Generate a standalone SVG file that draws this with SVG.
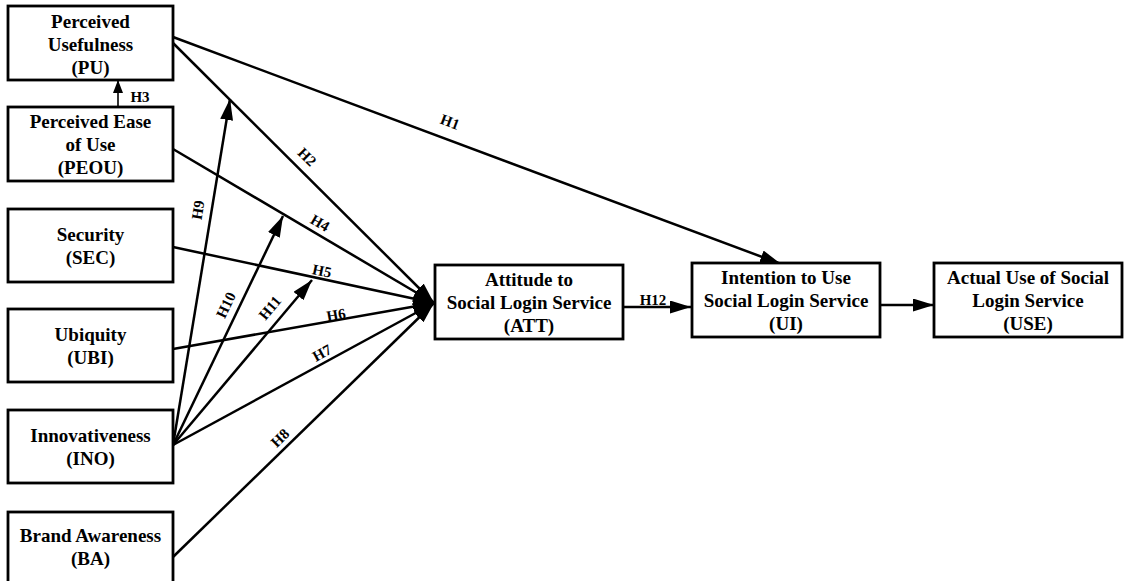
<svg xmlns="http://www.w3.org/2000/svg" width="1124" height="581" viewBox="0 0 1124 581">
<defs>
<marker id="arr" markerUnits="userSpaceOnUse" markerWidth="22" markerHeight="14" refX="21" refY="6.5" orient="auto">
<path d="M0,0 L21,6.5 L0,13 z" fill="#000"/>
</marker>
<marker id="arrS" markerUnits="userSpaceOnUse" markerWidth="14" markerHeight="11" refX="13" refY="5" orient="auto">
<path d="M0,0 L13,5 L0,10 z" fill="#000"/>
</marker>
<style>
.box{fill:#fff;stroke:#000;stroke-width:2.8}
.t{font-family:"Liberation Serif","Times New Roman",serif;font-weight:bold;font-size:19px;text-anchor:middle;fill:#000}
.lb{font-family:"Liberation Serif","Times New Roman",serif;font-weight:bold;font-size:15px;text-anchor:middle;fill:#000}
.c{stroke:#000;stroke-width:2.5;fill:none;marker-end:url(#arr)}
.cs{stroke:#000;stroke-width:1.6;fill:none;marker-end:url(#arrS)}
</style>
</defs>
<rect width="1124" height="581" fill="#fff"/>
<g id="connectors">
<line class="c" x1="173" y1="37" x2="781" y2="264"/>
<line class="c" x1="173" y1="43" x2="434" y2="303"/>
<line class="cs" x1="118" y1="107" x2="118" y2="80"/>
<line class="c" x1="173" y1="149" x2="434" y2="303"/>
<line class="c" x1="173" y1="247" x2="434" y2="303"/>
<line class="c" x1="173" y1="349" x2="434" y2="303"/>
<line class="c" x1="173" y1="445" x2="434" y2="303"/>
<line class="c" x1="173" y1="557" x2="434" y2="303"/>
<line class="c" x1="173" y1="445" x2="230" y2="99"/>
<line class="c" x1="173" y1="445" x2="283" y2="216"/>
<line class="c" x1="173" y1="445" x2="312" y2="280"/>
<line class="c" x1="623" y1="307" x2="691" y2="307"/>
<line class="c" x1="880" y1="305" x2="934" y2="305"/>
<g id="labels">
<text class="lb" transform="translate(450,122) rotate(20.4)" y="5">H1</text>
<text class="lb" transform="translate(307,157) rotate(45)" y="5">H2</text>
<text class="lb" transform="translate(140,97)" y="5">H3</text>
<text class="lb" transform="translate(320,223) rotate(30.5)" y="5">H4</text>
<text class="lb" transform="translate(322,271) rotate(11.9)" y="5">H5</text>
<text class="lb" transform="translate(336,315) rotate(-10.2)" y="5">H6</text>
<text class="lb" transform="translate(322,353) rotate(-28.8)" y="5">H7</text>
<text class="lb" transform="translate(280,438) rotate(-44.4)" y="5">H8</text>
<text class="lb" transform="translate(198,210) rotate(-80.8)" y="5">H9</text>
<text class="lb" transform="translate(226,305) rotate(-64.3)" y="5">H10</text>
<text class="lb" transform="translate(270,308) rotate(-49.9)" y="5">H11</text>
<text class="lb" transform="translate(653,300)" y="5">H12</text>
</g>
</g>
<g id="PU">
<rect class="box" x="8" y="6" width="165" height="74"/>
<text class="t" x="90.5" y="28">Perceived</text>
<text class="t" x="90.5" y="51">Usefulness</text>
<text class="t" x="90.5" y="74">(PU)</text>
</g>
<g id="PEOU">
<rect class="box" x="8" y="107" width="165" height="74"/>
<text class="t" x="90.5" y="128">Perceived Ease</text>
<text class="t" x="90.5" y="151">of Use</text>
<text class="t" x="90.5" y="174">(PEOU)</text>
</g>
<g id="SEC">
<rect class="box" x="8" y="209" width="165" height="73"/>
<text class="t" x="90.5" y="241">Security</text>
<text class="t" x="90.5" y="264">(SEC)</text>
</g>
<g id="UBI">
<rect class="box" x="8" y="309" width="165" height="73"/>
<text class="t" x="90.5" y="341">Ubiquity</text>
<text class="t" x="90.5" y="364">(UBI)</text>
</g>
<g id="INO">
<rect class="box" x="8" y="410" width="165" height="73"/>
<text class="t" x="90.5" y="442">Innovativeness</text>
<text class="t" x="90.5" y="465">(INO)</text>
</g>
<g id="BA">
<rect class="box" x="8" y="512" width="165" height="74"/>
<text class="t" x="90.5" y="542">Brand Awareness</text>
<text class="t" x="90.5" y="565">(BA)</text>
</g>
<g id="ATT">
<rect class="box" x="435" y="265" width="188" height="74"/>
<text class="t" x="529" y="286">Attitude to</text>
<text class="t" x="529" y="309">Social Login Service</text>
<text class="t" x="529" y="332">(ATT)</text>
</g>
<g id="UI">
<rect class="box" x="692" y="263" width="188" height="74"/>
<text class="t" x="786" y="284">Intention to Use</text>
<text class="t" x="786" y="307">Social Login Service</text>
<text class="t" x="786" y="330">(UI)</text>
</g>
<g id="USE">
<rect class="box" x="934" y="263" width="188" height="74"/>
<text class="t" x="1028" y="284">Actual Use of Social</text>
<text class="t" x="1028" y="307">Login Service</text>
<text class="t" x="1028" y="330">(USE)</text>
</g>
</svg>
